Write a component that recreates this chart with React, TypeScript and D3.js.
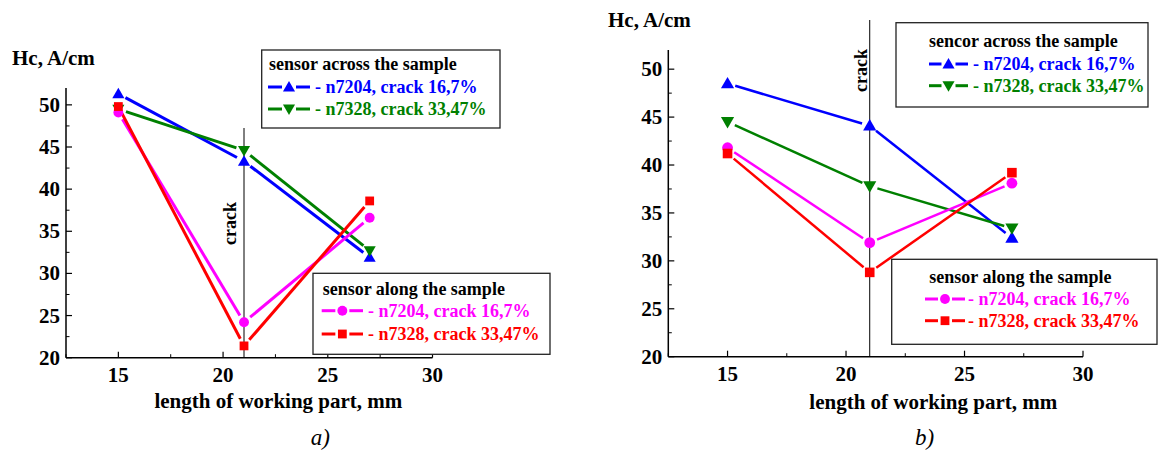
import React from "react";
import * as d3 from "d3";

const xValues = [15, 21, 27];
const xTicks = [15, 20, 25, 30];
const yTicks = [20, 25, 30, 35, 40, 45, 50];
const crackX = 21;

// panel a
const aAcross7204 = [51.3, 43.3, 31.9];
const aAcross7328 = [49.5, 44.6, 32.7];
const aAlong7204 = [49.1, 24.2, 36.6];
const aAlong7328 = [49.8, 21.4, 38.6];
// panel b
const bAcross7204 = [48.5, 44.1, 32.4];
const bAcross7328 = [44.5, 37.8, 33.4];
const bAlong7204 = [41.8, 31.9, 38.1];
const bAlong7328 = [41.2, 28.8, 39.2];

const label7204 = "- n7204, crack 16,7%";
const label7328 = "- n7328, crack 33,47%";

const FONT = "'Liberation Serif', 'Times New Roman', serif";
const BLUE = "#0000ff";
const GREEN = "#008000";
const MAGENTA = "#ff00ff";
const RED = "#ff0000";

type Shape = "up" | "down" | "circle" | "square";

function Marker({ shape, x, y, s, color }: { shape: Shape; x: number; y: number; s: number; color: string }) {
  if (shape === "circle") return <circle cx={x} cy={y} r={s * 0.45} fill={color} />;
  if (shape === "square") {
    const h = s * 0.4;
    return <rect x={x - h} y={y - h} width={2 * h} height={2 * h} fill={color} />;
  }
  const w = s * 0.55;
  const pts =
    shape === "up"
      ? [[x, y - s * 0.55], [x + w, y + s * 0.4], [x - w, y + s * 0.4]]
      : [[x, y + s * 0.55], [x + w, y - s * 0.4], [x - w, y - s * 0.4]];
  return <polygon points={pts.map((p) => p.join(",")).join(" ")} fill={color} />;
}

type Series = { values: number[]; color: string; shape: Shape };

type PanelCfg = {
  xr: [number, number];
  yr: [number, number];
  series: Series[];
  lw: number;
  ms: number;
  gap: number;
  crackTop: number;
  crackLabel: [number, number];
  yTitle: [number, number];
  xTitle: [number, number];
  caption: [number, number, string];
  legends: {
    box: [number, number, number, number];
    title: string;
    titleX: number;
    titleY: number;
    rowsY: number[];
    lineX: [number, number];
    textX: number;
    items: { color: string; shape: Shape; label: string }[];
  }[];
};

function Panel({ cfg }: { cfg: PanelCfg }) {
  const x = d3.scaleLinear().domain([12.5, 30]).range(cfg.xr);
  const y = d3.scaleLinear().domain([20, 52]).range(cfg.yr);
  const x0 = cfg.xr[0];
  const y0 = cfg.yr[0];
  const xMinor = d3.range(12.5, 30.01, 2.5).filter((v) => v % 5 !== 0);
  const yMinor = d3.range(22.5, 52, 5);
  const segs = (s: Series) => {
    const out: React.ReactNode[] = [];
    for (let i = 0; i < s.values.length - 1; i++) {
      const ax = x(xValues[i]), ay = y(s.values[i]);
      const bx = x(xValues[i + 1]), by = y(s.values[i + 1]);
      const dx = bx - ax, dy = by - ay;
      const L = Math.hypot(dx, dy);
      const ux = dx / L, uy = dy / L;
      out.push(
        <line key={i} x1={ax + ux * cfg.gap} y1={ay + uy * cfg.gap} x2={bx - ux * cfg.gap} y2={by - uy * cfg.gap}
          stroke={s.color} strokeWidth={cfg.lw} />
      );
    }
    return out;
  };
  return (
    <g fontFamily={FONT}>
      {/* crack line */}
      <line x1={x(crackX)} x2={x(crackX)} y1={cfg.crackTop} y2={y0} stroke="#000" strokeWidth={1} />
      <text transform={`translate(${cfg.crackLabel[0]},${cfg.crackLabel[1]}) rotate(-90)`} fontSize={18} fontWeight="bold">crack</text>
      {/* axes */}
      <line x1={x0} x2={x0} y1={cfg.yr[1]} y2={y0} stroke="#000" strokeWidth={1.5} />
      <line x1={x0} x2={cfg.xr[1]} y1={y0} y2={y0} stroke="#000" strokeWidth={1.5} />
      {yTicks.map((t) => (
        <g key={"y" + t}>
          <line x1={x0} x2={x0 + 6} y1={y(t)} y2={y(t)} stroke="#000" strokeWidth={1.2} />
          <text x={x0 - 6} y={y(t) + 7} textAnchor="end" fontSize={21} fontWeight="bold">{t}</text>
        </g>
      ))}
      {yMinor.map((t) => (
        <line key={"ym" + t} x1={x0} x2={x0 + 3.5} y1={y(t)} y2={y(t)} stroke="#000" strokeWidth={1} />
      ))}
      {xTicks.map((t) => (
        <g key={"x" + t}>
          <line x1={x(t)} x2={x(t)} y1={y0} y2={y0 - 6} stroke="#000" strokeWidth={1.2} />
          <text x={x(t)} y={y0 + 24} textAnchor="middle" fontSize={21} fontWeight="bold">{t}</text>
        </g>
      ))}
      {xMinor.map((t) => (
        <line key={"xm" + t} x1={x(t)} x2={x(t)} y1={y0} y2={y0 - 3.5} stroke="#000" strokeWidth={1} />
      ))}
      {/* series */}
      {cfg.series.map((s, i) => <g key={"s" + i}>{segs(s)}</g>)}
      {cfg.series.map((s, i) => (
        <g key={"m" + i}>
          {s.values.map((v, j) => (
            <Marker key={j} shape={s.shape} x={x(xValues[j])} y={y(v)} s={cfg.ms} color={s.color} />
          ))}
        </g>
      ))}
      {/* titles */}
      <text x={cfg.yTitle[0]} y={cfg.yTitle[1]} fontSize={21} fontWeight="bold">Hc, A/cm</text>
      <text x={cfg.xTitle[0]} y={cfg.xTitle[1]} textAnchor="middle" fontSize={21} fontWeight="bold">length of working part, mm</text>
      <text x={cfg.caption[0]} y={cfg.caption[1]} fontSize={23} fontStyle="italic">{cfg.caption[2]}</text>
      {/* legends */}
      {cfg.legends.map((lg, k) => {
        const [bx, by, bw, bh] = lg.box;
        const mid = (lg.lineX[0] + lg.lineX[1]) / 2;
        return (
          <g key={"lg" + k}>
            <rect x={bx} y={by} width={bw} height={bh} fill="#fff" stroke="#222" strokeWidth={1.3} />
            <text x={lg.titleX} y={lg.titleY} fontSize={18} fontWeight="bold">{lg.title}</text>
            {lg.items.map((it, j) => {
              const ry = lg.rowsY[j] - 6;
              return (
                <g key={j}>
                  <line x1={lg.lineX[0]} x2={mid - 7} y1={ry} y2={ry} stroke={it.color} strokeWidth={3} />
                  <line x1={mid + 7} x2={lg.lineX[1]} y1={ry} y2={ry} stroke={it.color} strokeWidth={3} />
                  <Marker shape={it.shape} x={mid} y={ry} s={11} color={it.color} />
                  <text x={lg.textX} y={lg.rowsY[j]} fontSize={18} fontWeight="bold" fill={it.color}>{it.label}</text>
                </g>
              );
            })}
          </g>
        );
      })}
    </g>
  );
}

const panelA: PanelCfg = {
  xr: [66, 432.5],
  yr: [357.7, 88],
  series: [
    { values: aAcross7204, color: BLUE, shape: "up" },
    { values: aAcross7328, color: GREEN, shape: "down" },
    { values: aAlong7204, color: MAGENTA, shape: "circle" },
    { values: aAlong7328, color: RED, shape: "square" },
  ],
  lw: 3,
  ms: 11,
  gap: 8,
  crackTop: 128,
  crackLabel: [235.5, 245],
  yTitle: [12, 65],
  xTitle: [278.4, 408],
  caption: [310.7, 445, "a)"],
  legends: [
    {
      box: [261.7, 50, 238.3, 78],
      title: "sensor across the sample",
      titleX: 269,
      titleY: 70,
      rowsY: [93, 115],
      lineX: [268, 310],
      textX: 315,
      items: [
        { color: BLUE, shape: "up", label: label7204 },
        { color: GREEN, shape: "down", label: label7328 },
      ],
    },
    {
      box: [313, 273.3, 237, 81],
      title: "sensor along the sample",
      titleX: 322.7,
      titleY: 295,
      rowsY: [316.7, 340],
      lineX: [321.7, 363],
      textX: 368,
      items: [
        { color: MAGENTA, shape: "circle", label: label7204 },
        { color: RED, shape: "square", label: label7328 },
      ],
    },
  ],
};

const panelB: PanelCfg = {
  xr: [668.3, 1083],
  yr: [356.7, 50],
  series: [
    { values: bAcross7204, color: BLUE, shape: "up" },
    { values: bAcross7328, color: GREEN, shape: "down" },
    { values: bAlong7204, color: MAGENTA, shape: "circle" },
    { values: bAlong7328, color: RED, shape: "square" },
  ],
  lw: 2.5,
  ms: 12,
  gap: 8,
  crackTop: 20,
  crackLabel: [866.5, 92],
  yTitle: [608, 27],
  xTitle: [933.3, 409],
  caption: [915, 445, "b)"],
  legends: [
    {
      box: [896, 22.7, 252, 84.3],
      title: "sencor across the sample",
      titleX: 929,
      titleY: 46.7,
      rowsY: [70, 91.7],
      lineX: [929, 968],
      textX: 973,
      items: [
        { color: BLUE, shape: "up", label: label7204 },
        { color: GREEN, shape: "down", label: label7328 },
      ],
    },
    {
      box: [891.7, 259.3, 265.3, 85],
      title: "sensor along the sample",
      titleX: 929.3,
      titleY: 283.3,
      rowsY: [305, 326.7],
      lineX: [925, 965],
      textX: 968,
      items: [
        { color: MAGENTA, shape: "circle", label: label7204 },
        { color: RED, shape: "square", label: label7328 },
      ],
    },
  ],
};

export default function App() {
  return (
    <svg width={1158} height={452} style={{ position: "absolute", left: 0, top: 0, background: "#fff" }}>
      <rect width={1158} height={452} fill="#fff" />
      <Panel cfg={panelA} />
      <Panel cfg={panelB} />
    </svg>
  );
}
